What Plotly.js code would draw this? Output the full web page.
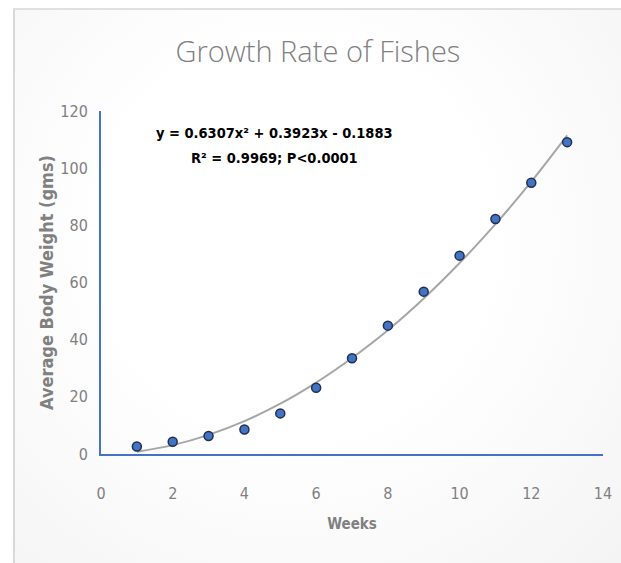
<!DOCTYPE html>
<html>
<head>
<meta charset="utf-8">
<script src="https://cdn.plot.ly/plotly-3.0.1.min.js"></script>
<style>
  html, body { margin: 0; padding: 0; width: 621px; height: 563px; overflow: hidden; background: #ffffff; }
  #frame { position: absolute; left: 13px; top: 8px; width: 620px; height: 570px;
           border-left: 2px solid #d9d9d9; border-top: 2px solid #e0e0e0;
           background: radial-gradient(ellipse at 45% 40%, #ffffff 40%, #f3f3f3 100%); }
  #chart { position: absolute; left: 0; top: 0; width: 621px; height: 563px; }
</style>
</head>
<body>
<div id="frame"></div>
<div id="chart"></div>
<script>
// Observed data
const weeks = [1, 2, 3, 4, 5, 6, 7, 8, 9, 10, 11, 12, 13];
const avgWeight = [2.6, 4.3, 6.3, 8.6, 14.2, 23.2, 33.5, 44.9, 56.8, 69.4, 82.2, 94.9, 109.1];
// Polynomial trendline values at each week
const trendWeeks = [1, 2, 3, 4, 5, 6, 7, 8, 9, 10, 11, 12, 13];
const trendWeight = [0.8, 3.1, 6.7, 11.5, 17.6, 25.0, 33.6, 43.3, 54.4, 66.8, 80.4, 95.3, 111.5];
const xTicks = [0, 2, 4, 6, 8, 10, 12, 14];
const yTicks = [0, 20, 40, 60, 80, 100, 120];
const fitLines = ['y = 0.6307x² + 0.3923x - 0.1883', 'R² = 0.9969; P<0.0001'];

const FONT = '"DejaVu Sans Condensed", "Liberation Sans Narrow", sans-serif';
const TFONT = '"Open Sans", sans-serif';

const traces = [
  {
    x: trendWeeks, y: trendWeight, type: 'scatter', mode: 'lines',
    line: { color: '#a6a6a6', width: 2, shape: 'spline' },
    hoverinfo: 'skip', showlegend: false
  },
  {
    x: weeks, y: avgWeight, type: 'scatter', mode: 'markers',
    marker: { color: '#4472c4', size: 9, line: { color: '#1f2f4f', width: 1.5 } },
    showlegend: false
  }
];

const layout = {
  width: 621, height: 563,
  paper_bgcolor: 'rgba(0,0,0,0)', plot_bgcolor: 'rgba(0,0,0,0)',
  margin: { l: 101, r: 18, t: 111, b: 109 },
  showlegend: false,
  title: {
    text: 'Growth Rate of Fishes',
    font: { family: TFONT, size: 29, color: '#808080', weight: 300 },
    x: 0.512, xanchor: 'center', y: 0.908, yanchor: 'middle'
  },
  xaxis: {
    range: [0, 14], tickvals: xTicks, ticktext: xTicks.map(String),
    showgrid: false, zeroline: false,
    showline: true, linecolor: '#4472c4', linewidth: 2,
    ticks: '', ticklen: 0,
    tickfont: { family: FONT, size: 16, color: '#808080' },
    ticklabelstandoff: 24,
    title: { text: '<b>Weeks</b>', font: { family: FONT, size: 15, color: '#808080' }, standoff: 16 }
  },
  yaxis: {
    range: [0, 120], tickvals: yTicks, ticktext: yTicks.map(String),
    showgrid: false, zeroline: false,
    showline: true, linecolor: '#4472c4', linewidth: 2,
    ticks: '', ticklen: 0,
    tickfont: { family: FONT, size: 16, color: '#808080' },
    ticklabelstandoff: 8,
    title: { text: '<b>Average Body Weight (gms)</b>', font: { family: FONT, size: 18, color: '#808080' }, standoff: 2 }
  },
  annotations: [
    {
      xref: 'paper', yref: 'paper', x: 0.346, y: 1 - (133 - 111) / 343, xanchor: 'center', yanchor: 'middle',
      text: '<b>' + fitLines[0] + '</b>',
      showarrow: false, font: { family: FONT, size: 14.5, color: '#000000' }
    },
    {
      xref: 'paper', yref: 'paper', x: 0.346, y: 1 - (158 - 111) / 343, xanchor: 'center', yanchor: 'middle',
      text: '<b>' + fitLines[1] + '</b>',
      showarrow: false, font: { family: FONT, size: 14.5, color: '#000000' }
    }
  ]
};

Plotly.newPlot('chart', traces, layout, { displayModeBar: false, responsive: false });
</script>
</body>
</html>
